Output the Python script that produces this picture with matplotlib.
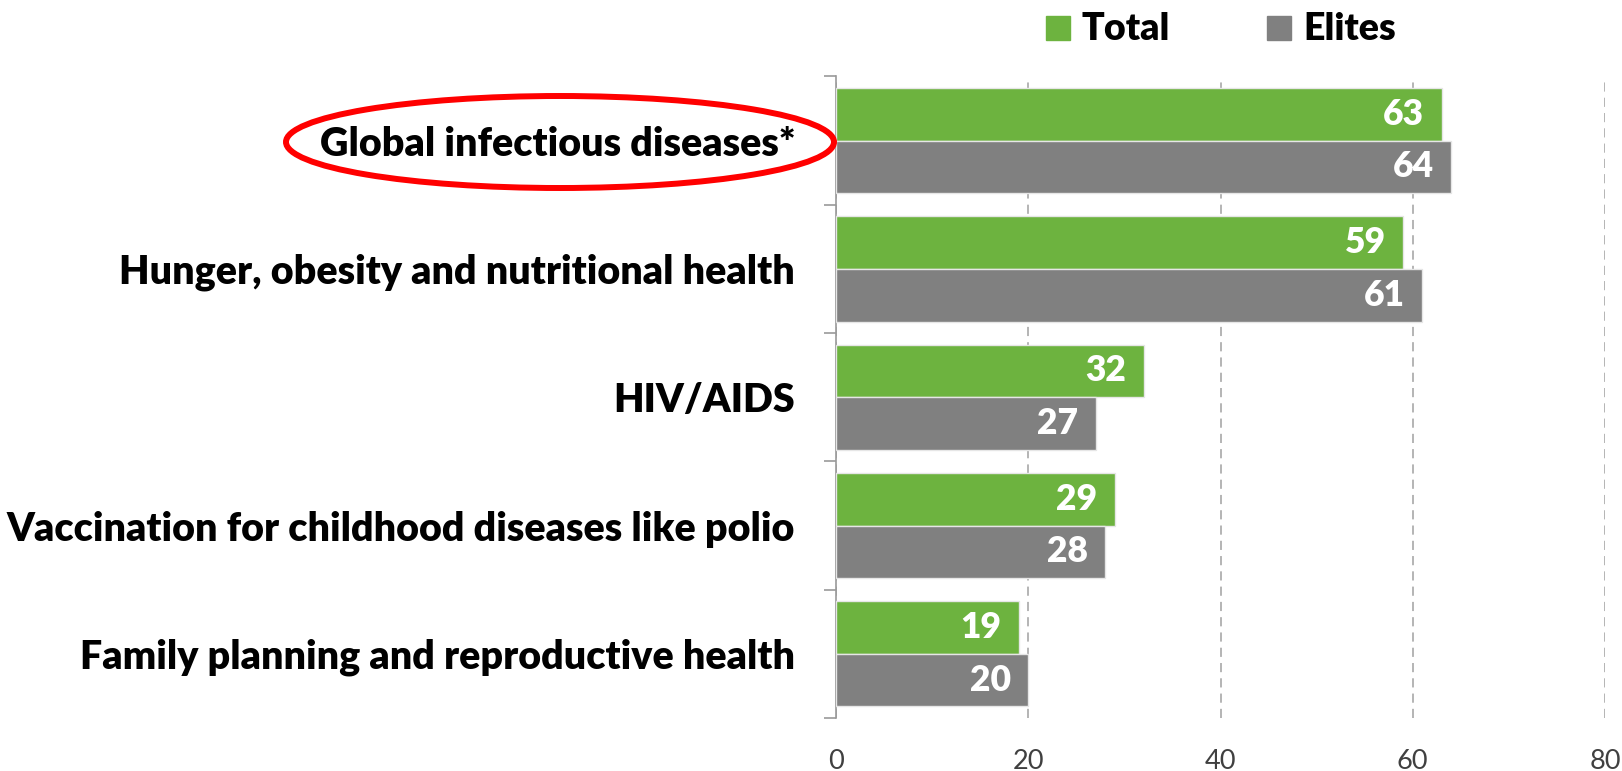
import matplotlib
matplotlib.use('Agg')
import matplotlib.pyplot as plt
from matplotlib.patches import Ellipse, Rectangle
import numpy as np

# data
categories = ['Global infectious diseases*',
              'Hunger, obesity and nutritional health',
              'HIV/AIDS',
              'Vaccination for childhood diseases like polio',
              'Family planning and reproductive health']
total = [63, 59, 32, 29, 19]
elites = [64, 61, 27, 28, 20]
xticks = [0, 20, 40, 60, 80]

green = '#6db33f'
gray = '#808080'

plt.rcParams['font.family'] = ['Lato', 'DejaVu Sans']

W, H = 1622, 771
fig = plt.figure(figsize=(W / 100, H / 100), dpi=100)
ax = fig.add_axes([836 / W, 1 - 718 / H, (1605 - 836) / W, (718 - 76.5) / H])

y = np.arange(len(categories))
h = 0.41
b1 = ax.barh(y - h / 2, total, height=h, color=green, edgecolor='#e6e6e6', linewidth=1, zorder=3)
b2 = ax.barh(y + h / 2, elites, height=h, color=gray, edgecolor='#e6e6e6', linewidth=1, zorder=3)

# value labels inside bar ends
for bars, vals in [(b1, total), (b2, elites)]:
    for bar, v in zip(bars, vals):
        ax.annotate(str(v), (v, bar.get_y() + bar.get_height() / 2),
                    xytext=(-12.5, 0), textcoords='offset points',
                    ha='right', va='center', color='white', fontsize=25.5,
                    fontweight='heavy', zorder=4)

ax.set_ylim(len(categories) - 0.5, -0.5)
ax.set_xlim(0, 80)
ax.set_xticks(xticks)
ax.set_xticklabels([str(t) for t in xticks], fontsize=19.5, color='#404040')
ax.tick_params(axis='x', length=0, pad=22)

# category labels, ticks on group boundaries
ax.set_yticks(y)
ax.set_yticklabels(categories, fontsize=28.4, fontweight='heavy', color='black')
ax.tick_params(axis='y', which='major', length=0, pad=29.5)
ax.set_yticks(np.arange(len(categories) + 1) - 0.5, minor=True)
ax.tick_params(axis='y', which='minor', length=9, width=1.2, color='#999999')

for s in ['top', 'right', 'bottom']:
    ax.spines[s].set_visible(False)
ax.spines['left'].set_color('#999999')
ax.spines['left'].set_linewidth(1.2)

ax.grid(axis='x', linestyle=(0, (6, 4)), color='#a0a0a0', linewidth=1.1, zorder=0)
ax.set_axisbelow(True)

# legend
fig.patches.append(Rectangle((1046 / W, 1 - 40 / H), 24 / W, 24 / H,
                             transform=fig.transFigure, color=green))
fig.text(1082 / W, 1 - 40 / H, 'Total', fontsize=27, fontweight='heavy', va='baseline')
fig.patches.append(Rectangle((1267 / W, 1 - 40 / H), 24 / W, 24 / H,
                             transform=fig.transFigure, color=gray))
fig.text(1303 / W, 1 - 40 / H, 'Elites', fontsize=27, fontweight='heavy', va='baseline')

# red ellipse around first label
fig.patches.append(Ellipse((560 / W, 1 - 142 / H), 548 / W, 92 / H,
                           transform=fig.transFigure, fill=False,
                           edgecolor='red', linewidth=4.3))

fig.savefig('out.png', dpi=100)
